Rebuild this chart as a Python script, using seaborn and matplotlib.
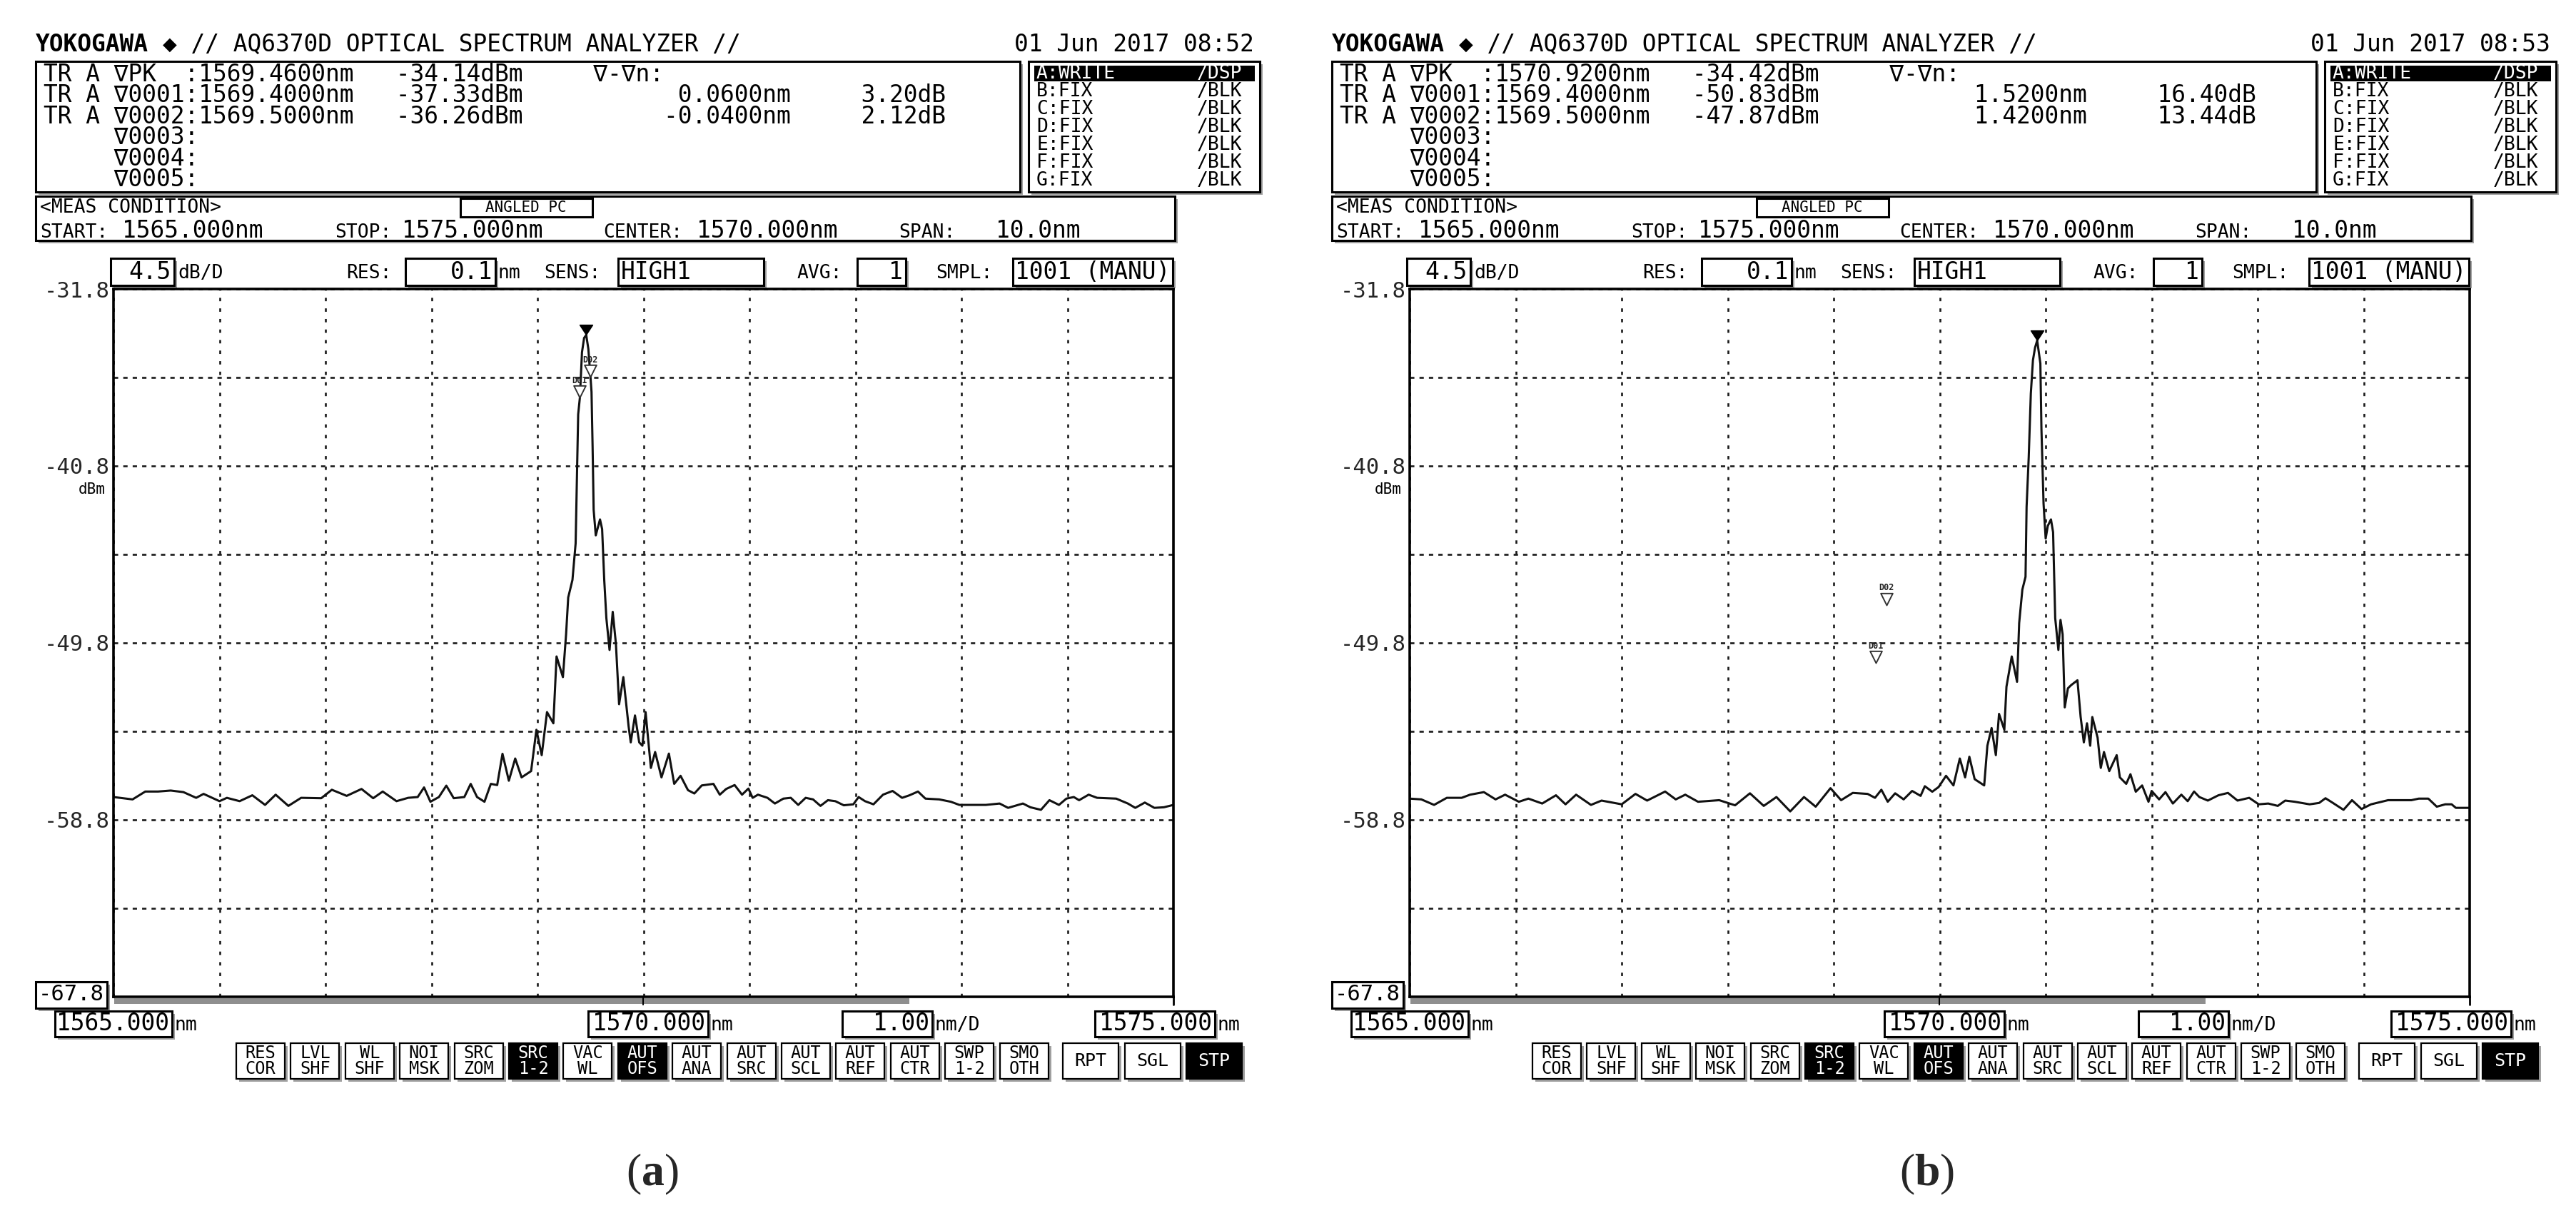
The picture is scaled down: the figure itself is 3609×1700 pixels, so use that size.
import numpy as np
import matplotlib
matplotlib.use('Agg')
import matplotlib.pyplot as plt
import seaborn as sns
from matplotlib.patches import Rectangle
from matplotlib.path import Path

# ---- trace A of screenshot (a): wavelength (nm), level (dBm) ----
wl_a = [1565.00, 1565.18, 1565.30, 1565.42, 1565.54, 1565.66, 1565.78, 1565.85, 1566.00, 1566.07,
        1566.19, 1566.31, 1566.43, 1566.53, 1566.65, 1566.77, 1566.96, 1567.06, 1567.20, 1567.34,
        1567.45, 1567.54, 1567.67, 1567.78, 1567.87, 1567.93, 1567.99, 1568.07, 1568.14, 1568.21,
        1568.31, 1568.37, 1568.43, 1568.50, 1568.56, 1568.62, 1568.67, 1568.73, 1568.79, 1568.85,
        1568.94, 1568.99, 1569.04, 1569.09, 1569.15, 1569.18, 1569.24, 1569.27, 1569.29, 1569.33,
        1569.36, 1569.372, 1569.384, 1569.40, 1569.42, 1569.44, 1569.46, 1569.48, 1569.50, 1569.51,
        1569.52, 1569.53, 1569.55, 1569.59, 1569.61, 1569.63, 1569.65, 1569.68, 1569.71, 1569.74,
        1569.77, 1569.81, 1569.86, 1569.88, 1569.92, 1569.96, 1569.99, 1570.02, 1570.07, 1570.11,
        1570.17, 1570.24, 1570.29, 1570.35, 1570.42, 1570.48, 1570.55, 1570.66, 1570.72, 1570.78,
        1570.86, 1570.93, 1570.99, 1571.03, 1571.08, 1571.17, 1571.24, 1571.32, 1571.39, 1571.46,
        1571.53, 1571.60, 1571.67, 1571.74, 1571.81, 1571.89, 1571.98, 1572.03, 1572.09, 1572.17,
        1572.26, 1572.35, 1572.44, 1572.51, 1572.59, 1572.66, 1572.79, 1572.90, 1572.98, 1573.12,
        1573.23, 1573.36, 1573.44, 1573.58, 1573.65, 1573.75, 1573.83, 1573.92, 1573.99, 1574.06,
        1574.11, 1574.20, 1574.28, 1574.46, 1574.57, 1574.64, 1574.73, 1574.82, 1574.91, 1575.00]
dbm_a = [-57.64, -57.76, -57.36, -57.36, -57.31, -57.39, -57.68, -57.48, -57.85, -57.68,
         -57.85, -57.55, -58.04, -57.52, -58.09, -57.68, -57.70, -57.27, -57.58, -57.23,
         -57.70, -57.36, -57.85, -57.68, -57.64, -57.15, -57.88, -57.64, -57.06, -57.70,
         -57.64, -56.97, -57.64, -57.88, -56.97, -57.03, -55.44, -56.81, -55.68, -56.64,
         -56.32, -54.22, -55.51, -53.32, -53.89, -50.49, -51.54, -49.36, -47.49, -46.60,
         -44.74, -41.42, -38.18, -37.33, -35.02, -34.29, -34.14, -34.85, -36.26, -37.04,
         -39.80, -43.03, -44.33, -43.52, -44.01, -46.60, -48.54, -50.16, -48.22, -49.84,
         -52.92, -51.54, -54.05, -54.86, -53.49, -54.86, -55.03, -53.32, -56.16, -55.35,
         -56.64, -55.43, -56.97, -56.56, -57.29, -57.46, -57.05, -56.97, -57.52, -57.23,
         -57.03, -57.52, -57.21, -57.68, -57.52, -57.68, -57.97, -57.72, -57.68, -58.04,
         -57.68, -57.76, -58.09, -57.80, -57.85, -58.06, -58.01, -57.64, -57.85, -58.01,
         -57.52, -57.33, -57.68, -57.55, -57.36, -57.72, -57.76, -57.88, -58.04, -58.04,
         -58.04, -57.97, -58.19, -57.97, -58.16, -58.29, -57.80, -58.04, -57.72, -57.64,
         -57.80, -57.52, -57.68, -57.72, -57.97, -58.19, -57.92, -58.19, -58.16, -58.04]

# ---- trace A of screenshot (b) ----
wl_b = [1565.00, 1565.11, 1565.23, 1565.35, 1565.49, 1565.57, 1565.70, 1565.81, 1565.90, 1566.03,
        1566.12, 1566.25, 1566.38, 1566.47, 1566.57, 1566.71, 1566.81, 1567.00, 1567.13, 1567.24,
        1567.41, 1567.51, 1567.60, 1567.72, 1567.92, 1568.07, 1568.21, 1568.34, 1568.46, 1568.59,
        1568.72, 1568.83, 1568.97, 1569.07, 1569.18, 1569.32, 1569.39, 1569.45, 1569.51, 1569.58,
        1569.66, 1569.74, 1569.82, 1569.86, 1569.93, 1569.99, 1570.06, 1570.13, 1570.19, 1570.24,
        1570.28, 1570.33, 1570.42, 1570.45, 1570.49, 1570.53, 1570.56, 1570.61, 1570.63, 1570.68,
        1570.73, 1570.75, 1570.78, 1570.81, 1570.82, 1570.84, 1570.86, 1570.88, 1570.90, 1570.92,
        1570.95, 1570.96, 1570.98, 1571.00, 1571.02, 1571.05, 1571.07, 1571.09, 1571.12, 1571.14,
        1571.16, 1571.18, 1571.21, 1571.24, 1571.30, 1571.33, 1571.36, 1571.39, 1571.42, 1571.44,
        1571.49, 1571.52, 1571.55, 1571.60, 1571.67, 1571.70, 1571.76, 1571.80, 1571.85, 1571.91,
        1571.97, 1572.00, 1572.07, 1572.13, 1572.20, 1572.28, 1572.34, 1572.40, 1572.45, 1572.53,
        1572.63, 1572.72, 1572.81, 1572.92, 1573.01, 1573.10, 1573.19, 1573.26, 1573.35, 1573.49,
        1573.58, 1573.64, 1573.71, 1573.81, 1573.89, 1573.98, 1574.07, 1574.23, 1574.45, 1574.52,
        1574.61, 1574.69, 1574.77, 1574.83, 1574.87, 1575.00]
dbm_b = [-57.72, -57.76, -58.04, -57.68, -57.68, -57.52, -57.39, -57.76, -57.52, -57.88,
         -57.72, -57.97, -57.55, -58.01, -57.52, -58.04, -57.82, -58.01, -57.48, -57.82,
         -57.36, -57.76, -57.52, -57.88, -57.80, -58.06, -57.45, -58.09, -57.64, -58.37,
         -57.64, -58.13, -57.19, -57.80, -57.43, -57.48, -57.68, -57.27, -57.88, -57.45,
         -57.76, -57.33, -57.58, -57.09, -57.37, -57.13, -56.56, -57.05, -55.68, -56.64,
         -55.59, -56.73, -57.05, -55.03, -54.13, -55.51, -53.41, -54.22, -52.03, -50.49,
         -51.78, -48.79, -47.09, -46.44, -42.88, -40.37, -37.12, -35.42, -34.78, -34.42,
         -35.59, -38.90, -42.71, -44.49, -43.85, -43.52, -44.17, -48.54, -50.16, -48.63,
         -49.36, -53.08, -52.11, -51.95, -51.70, -53.57, -54.86, -53.89, -55.03, -53.57,
         -54.62, -56.16, -55.35, -56.32, -55.51, -56.64, -56.97, -56.48, -57.37, -57.05,
         -57.88, -57.33, -57.76, -57.39, -57.97, -57.52, -57.85, -57.36, -57.64, -57.82,
         -57.55, -57.43, -57.82, -57.68, -58.01, -57.97, -58.09, -57.82, -57.88, -58.01,
         -57.94, -57.70, -57.94, -58.29, -57.80, -58.25, -58.01, -57.80, -57.80, -57.72,
         -57.72, -58.13, -58.01, -58.01, -58.19, -58.19]

# ---- markers ----
peak_wl = [1569.46, 1570.92]
peak_dbm = [-34.14, -34.42]
delta_wl = [[1569.40, 1569.50], [1569.40, 1569.50]]
delta_dbm = [[-37.33, -36.26], [-50.83, -47.87]]
delta_names = ['D01', 'D02']

# ---- screen texts ----
marker_lines = [
    ['TR A \u2207PK  :1569.4600nm   -34.14dBm     \u2207-\u2207n:',
     'TR A \u22070001:1569.4000nm   -37.33dBm           0.0600nm     3.20dB',
     'TR A \u22070002:1569.5000nm   -36.26dBm          -0.0400nm     2.12dB',
     '     \u22070003:', '     \u22070004:', '     \u22070005:'],
    ['TR A \u2207PK  :1570.9200nm   -34.42dBm     \u2207-\u2207n:',
     'TR A \u22070001:1569.4000nm   -50.83dBm           1.5200nm     16.40dB',
     'TR A \u22070002:1569.5000nm   -47.87dBm           1.4200nm     13.44dB',
     '     \u22070003:', '     \u22070004:', '     \u22070005:'],
]
dates = ['01 Jun 2017 08:52', '01 Jun 2017 08:53']
captions = ['a', 'b']
caption_x = [914, 2700]
trace_names = ['A:WRITE', 'B:FIX', 'C:FIX', 'D:FIX', 'E:FIX', 'F:FIX', 'G:FIX']
trace_modes = ['/DSP', '/BLK', '/BLK', '/BLK', '/BLK', '/BLK', '/BLK']
level_labels = ['-31.8', '', '-40.8', '', '-49.8', '', '-58.8', '', '']
buttons = ['RES\nCOR', 'LVL\nSHF', 'WL\nSHF', 'NOI\nMSK', 'SRC\nZOM', 'SRC\n1-2', 'VAC\nWL',
           'AUT\nOFS', 'AUT\nANA', 'AUT\nSRC', 'AUT\nSCL', 'AUT\nREF', 'AUT\nCTR', 'SWP\n1-2', 'SMO\nOTH']
buttons_on = ['SRC\n1-2', 'AUT\nOFS']
run_buttons = ['RPT', 'SGL', 'STP']

sns.set_theme(style='white')
MONO = ['DejaVu Sans Mono', 'DejaVu Sans']
plt.rcParams['font.family'] = MONO
plt.rcParams['mathtext.fontset'] = 'custom'
plt.rcParams['mathtext.rm'] = 'Liberation Serif'
plt.rcParams['mathtext.bf'] = 'Liberation Serif:bold'

BIG, MID, SMALL = 23.7, 19, 15
W, H = 3609, 1700
fig = plt.figure(figsize=(W / 100, H / 100), dpi=100, facecolor='white')
ov = fig.add_axes([0, 0, 1, 1], zorder=0)
ov.set_xlim(0, W)
ov.set_ylim(H, 0)
ov.axis('off')


def txt(x, y, s, size=BIG, ha='left', color='black', **kw):
    ov.text(x, y, s, fontsize=size, ha=ha, va='center', color=color, family=MONO, zorder=5, **kw)


def box(x0, y0, x1, y1, fc='white', lw=2.2, shadow=True):
    if shadow:
        ov.add_patch(Rectangle((x0 + 4, y0 + 4), x1 - x0, y1 - y0, fc='#a0a0a0', ec='none', zorder=2))
    ov.add_patch(Rectangle((x0, y0), x1 - x0, y1 - y0, fc=fc, ec='black', lw=lw, zorder=3))


tip_down = Path([(-0.65, 1.0), (0.65, 1.0), (0.0, 0.0), (-0.65, 1.0)],
                [Path.MOVETO, Path.LINETO, Path.LINETO, Path.CLOSEPOLY])
tip_hollow = Path([(-0.5, 1.0), (0.5, 1.0), (0.0, 0.0), (-0.5, 1.0)],
                  [Path.MOVETO, Path.LINETO, Path.LINETO, Path.CLOSEPOLY])


def panel(k, wl, dbm):
    dx = 1816 * k
    X = lambda v: v + dx

    # header
    txt(X(50), 62, 'YOKOGAWA', weight='bold')
    txt(X(50 + 9 * 19.8), 62, '\u25c6 // AQ6370D OPTICAL SPECTRUM ANALYZER //')
    txt(X(1421), 62, dates[k])

    # marker list box
    box(X(50), 86, X(1429), 269)
    for i, line in enumerate(marker_lines[k]):
        txt(X(61), 104 + 29.5 * i, line)

    # trace state box
    box(X(1441), 86, X(1765), 269)
    ov.add_patch(Rectangle((X(1449), 92), 309, 22, fc='black', ec='none', zorder=4))
    for i, (nm, md) in enumerate(zip(trace_names, trace_modes)):
        c = 'white' if i == 0 else 'black'
        txt(X(1452), 103 + 25 * i, nm, size=MID, color=c)
        txt(X(1677), 103 + 25 * i, md, size=MID, color=c)

    # measurement condition
    box(X(50), 275, X(1646), 337)
    txt(X(56), 291, '<MEAS CONDITION>', size=MID)
    box(X(645), 278, X(830), 304, shadow=False)
    txt(X(737), 291, 'ANGLED PC', size=SMALL, ha='center')
    for lab, xl, val, xv in [('START:', 56, '1565.000nm', 171), ('STOP:', 469, '1575.000nm', 563),
                             ('CENTER:', 845, '1570.000nm', 976), ('SPAN:', 1259, '10.0nm', 1395)]:
        txt(X(xl), 326, lab, size=MID)
        txt(X(xv), 323, val)

    # setting row above the grid
    box(X(155), 362, X(244), 400)
    txt(X(240), 381, '4.5', ha='right')
    txt(X(249), 383, 'dB/D', size=MID)
    txt(X(485), 383, 'RES:', size=MID)
    box(X(568), 362, X(694), 400)
    txt(X(690), 381, '0.1', ha='right')
    txt(X(697), 383, 'nm', size=MID)
    txt(X(762), 383, 'SENS:', size=MID)
    box(X(866), 362, X(1070), 400)
    txt(X(870), 381, 'HIGH1')
    txt(X(1117), 383, 'AVG:', size=MID)
    box(X(1201), 362, X(1269), 400)
    txt(X(1265), 381, '1', ha='right')
    txt(X(1311), 383, 'SMPL:', size=MID)
    box(X(1419), 362, X(1643), 400)
    txt(X(1639), 381, '1001 (MANU)', ha='right')

    # spectrum
    ax = fig.add_axes([X(159) / W, 1 - 1397 / H, 1485 / W, 992 / H], zorder=6)
    ax.set_facecolor('white')
    sns.lineplot(x=wl, y=dbm, ax=ax, color='#111111', linewidth=2.2, estimator=None)
    ax.plot(peak_wl[k], peak_dbm[k], marker=tip_down, ms=20, color='black', ls='none', clip_on=False)
    ax.plot(delta_wl[k], delta_dbm[k], marker=tip_hollow, ms=24, mfc='white', mec='#333333',
            mew=1.4, ls='none', clip_on=False)
    for w, d, nm in zip(delta_wl[k], delta_dbm[k], delta_names):
        ax.annotate(nm, (w, d), xytext=(0, 12.5), textcoords='offset points', ha='center',
                    va='bottom', fontsize=8.5, weight='bold', color='#222222', family=MONO)
    ax.set_xlim(1565, 1575)
    ax.set_ylim(-67.8, -31.8)
    ax.set_xticks(np.arange(1565, 1575.5, 1.0))
    ax.set_xticklabels([])
    ax.set_yticks(np.linspace(-67.8, -31.8, 9)[::-1])
    ax.set_yticklabels(level_labels, fontsize=22, family=MONO)
    ax.tick_params(length=0, pad=4)
    ax.set_xlabel('')
    ax.set_ylabel('')
    ax.grid(axis='x', color='#1a1a1a', lw=1.9, ls=(0, (1.8, 3.8)))
    ax.grid(axis='y', color='#1a1a1a', lw=1.9, ls=(0, (2.3, 2.7)))
    for s in ax.spines.values():
        s.set_color('black')
        s.set_linewidth(2.6)
        s.set_visible(True)

    txt(X(148), 686, 'dBm', size=SMALL, ha='right')
    box(X(50), 1376, X(150), 1413)
    txt(X(146), 1394, '-67.8', size=22, ha='right')
    ov.text(X(165), 1384, 'REF', fontsize=13, va='center', family=MONO, zorder=7)

    # scroll bar under the grid
    ov.add_patch(Rectangle((X(160), 1399), 1114, 8, fc='#8f8f8f', ec='none', zorder=2))
    ov.plot([X(901), X(901)], [1397, 1408], color='black', lw=1.5, zorder=3)
    ov.plot([X(1644), X(1644)], [1397, 1408], color='black', lw=2, zorder=3)

    # wavelength scale row
    for x0, x1, val, unit in [(77, 241, '1565.000', 'nm'), (824, 992, '1570.000', 'nm'),
                              (1180, 1306, '1.00', 'nm/D'), (1534, 1702, '1575.000', 'nm')]:
        box(X(x0), 1417, X(x1), 1453)
        txt(X(x1 - 4), 1434, val, ha='right')
        txt(X(x1 + 3), 1437, unit, size=MID)

    # soft keys
    for i, b in enumerate(buttons):
        x0 = X(331 + 76.4 * i)
        on = b in buttons_on
        box(x0, 1462, x0 + 68, 1512, fc='black' if on else 'white', lw=1.6)
        ov.text(x0 + 34, 1487, b, fontsize=17, ha='center', va='center', linespacing=0.9,
                color='white' if on else 'black', family=MONO, zorder=5)
    for i, b in enumerate(run_buttons):
        x0 = X(1489 + 86.5 * i)
        on = b == 'STP'
        box(x0, 1462, x0 + 78, 1512, fc='black' if on else 'white', lw=1.6)
        txt(x0 + 39, 1487, b, size=18, ha='center', color='white' if on else 'black')

    ov.text(caption_x[k], 1646, '($\\mathbf{' + captions[k] + '}$)', fontsize=46, ha='center',
            va='center', family='Liberation Serif', zorder=5)


panel(0, wl_a, dbm_a)
panel(1, wl_b, dbm_b)

fig.savefig('out.png', dpi=100, facecolor='white')
